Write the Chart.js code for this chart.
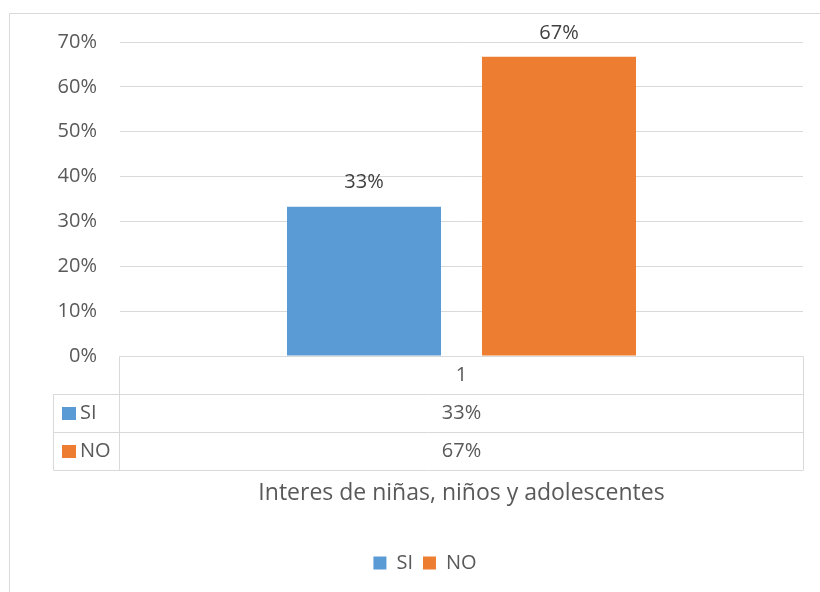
<!DOCTYPE html>
<html>
<head>
<meta charset="utf-8">
<script src="https://cdn.jsdelivr.net/npm/chart.js@4/dist/chart.umd.min.js"></script>
<style>
  html, body { margin: 0; padding: 0; background: #ffffff; }
  #wrap { width: 820px; height: 592px; position: relative; }
</style>
</head>
<body>
<div id="wrap"><canvas id="c" width="820" height="592"></canvas></div>
<script>
// ---- data ----
const categories = ['1'];
const seriesNames = ['SI', 'NO'];
const siValues = [0.333];
const noValues = [0.667];
const seriesColors = ['#5B9BD5', '#ED7D31'];
const axisTitle = 'Interes de niñas, niños y adolescentes';
const yMin = 0, yMax = 0.7, yStep = 0.1;

const FONT = "'Open Sans', 'DejaVu Sans', sans-serif";
const TEXT = '#595959';
const GRID = '#D9D9D9';
const pct = v => Math.round(v * 100) + '%';

const frame = {
  id: 'frame',
  beforeDraw(chart) {
    const ctx = chart.ctx;
    ctx.save();
    ctx.strokeStyle = GRID;
    ctx.lineWidth = 1;
    ctx.beginPath();
    ctx.moveTo(9.5, 700);
    ctx.lineTo(9.5, 13.5);
    ctx.lineTo(830, 13.5);
    ctx.stroke();
    ctx.restore();
  }
};

const dataLabels = {
  id: 'dataLabels',
  afterDatasetsDraw(chart) {
    const ctx = chart.ctx;
    ctx.save();
    ctx.font = '20px ' + FONT;
    ctx.fillStyle = '#404040';
    ctx.textAlign = 'center';
    ctx.textBaseline = 'middle';
    chart.data.datasets.forEach((ds, i) => {
      chart.getDatasetMeta(i).data.forEach((el, j) => {
        ctx.fillText(pct(ds.data[j]), el.x, el.y - 24);
      });
    });
    ctx.restore();
  }
};

const dataTable = {
  id: 'dataTable',
  afterDraw(chart) {
    const ctx = chart.ctx;
    const a = chart.chartArea;
    const xs = chart.scales.x;
    const rowH = 37.8;
    const keyLeft = 53.5;
    const top = Math.round(a.bottom) + 0.5;
    const left = Math.round(a.left) - 0.5;
    const right = Math.round(a.right) + 0.5;
    const nRows = chart.data.datasets.length;
    const bottom = top + rowH * (nRows + 1);
    ctx.save();
    ctx.strokeStyle = GRID;
    ctx.lineWidth = 1;
    ctx.beginPath();
    ctx.moveTo(left, top); ctx.lineTo(right, top);
    ctx.moveTo(left, top); ctx.lineTo(left, bottom);
    ctx.moveTo(right, top); ctx.lineTo(right, bottom);
    ctx.moveTo(keyLeft, top + rowH); ctx.lineTo(keyLeft, bottom);
    for (let r = 1; r <= nRows + 1; r++) {
      const y = Math.round(top + rowH * r) + 0.5;
      ctx.moveTo(keyLeft, y); ctx.lineTo(right, y);
    }
    ctx.stroke();

    ctx.font = '20px ' + FONT;
    ctx.fillStyle = TEXT;
    ctx.textBaseline = 'middle';
    ctx.textAlign = 'center';
    chart.data.labels.forEach((lab, j) => {
      const cx = xs.getPixelForValue(j);
      ctx.fillText(lab, cx, top + rowH / 2);
      chart.data.datasets.forEach((ds, i) => {
        ctx.fillText(pct(ds.data[j]), cx, top + rowH * (i + 1) + rowH / 2);
      });
    });
    chart.data.datasets.forEach((ds, i) => {
      const cy = top + rowH * (i + 1) + rowH / 2;
      ctx.fillStyle = ds.backgroundColor;
      ctx.fillRect(62, Math.round(cy - 6.5), 14, 13);
      ctx.fillStyle = TEXT;
      ctx.textAlign = 'left';
      ctx.fillText(ds.label, 80, cy);
    });
    ctx.restore();
  }
};

new Chart(document.getElementById('c'), {
  type: 'bar',
  data: {
    labels: categories,
    datasets: [
      { label: seriesNames[0], data: siValues, backgroundColor: seriesColors[0] },
      { label: seriesNames[1], data: noValues, backgroundColor: seriesColors[1] }
    ]
  },
  options: {
    responsive: false,
    animation: false,
    devicePixelRatio: 1,
    categoryPercentage: 0.571,
    barPercentage: 0.79,
    layout: { padding: { left: 47, right: 17, top: 42, bottom: 9 } },
    plugins: {
      tooltip: { enabled: false },
      legend: {
        position: 'bottom',
        labels: {
          font: { size: 20, family: FONT },
          color: TEXT,
          boxWidth: 13,
          boxHeight: 13,
          padding: 10
        }
      }
    },
    scales: {
      x: {
        grid: { display: false },
        border: { display: false },
        ticks: { display: false },
        title: {
          display: true,
          text: axisTitle,
          color: TEXT,
          font: { size: 23, family: FONT },
          padding: { top: 0, bottom: 36 }
        },
        afterFit(s) { s.height = 187; }
      },
      y: {
        min: yMin,
        max: yMax,
        grid: { color: GRID, lineWidth: 1, drawTicks: false },
        border: { display: false },
        ticks: {
          stepSize: yStep,
          padding: 23,
          color: TEXT,
          font: { size: 20, family: FONT },
          callback: v => pct(v)
        },
        afterFit(s) { s.width = 73; }
      }
    }
  },
  plugins: [frame, dataLabels, dataTable]
});
</script>
</body>
</html>
